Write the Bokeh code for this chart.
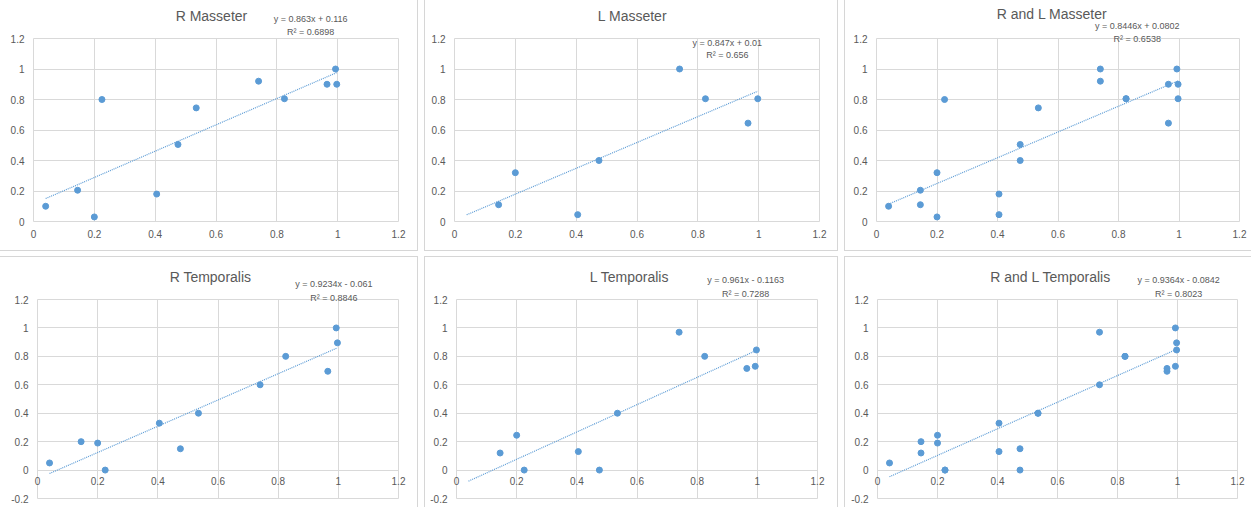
import numpy as np
from bokeh.plotting import figure
from bokeh.layouts import row, column
from bokeh.models import Label, FixedTicker, CustomJSTickFormatter, Range1d
from bokeh.embed import file_html
from bokeh.resources import INLINE

nan = float("nan")

# ---- data ----
subject_x = [0.04, 0.145, 0.2, 0.225, 0.405, 0.475, 0.535, 0.74, 0.825, 0.965, 0.993, 0.997]
r_masseter = [0.10, 0.205, 0.03, 0.80, 0.18, 0.505, 0.745, 0.92, 0.805, 0.90, 1.0, 0.90]
l_masseter = [nan, 0.11, 0.32, nan, 0.045, 0.40, nan, 1.0, 0.805, 0.645, nan, 0.805]
r_temporalis = [0.05, 0.20, 0.19, 0.0, 0.33, 0.15, 0.40, 0.60, 0.80, 0.695, 1.0, 0.895]
l_temporalis = [nan, 0.12, 0.245, 0.0, 0.13, 0.0, 0.40, 0.97, 0.80, 0.715, 0.73, 0.845]

titles = ["R Masseter", "L Masseter", "R and L Masseter",
          "R Temporalis", "L Temporalis", "R and L Temporalis"]
slopes = [0.863, 0.847, 0.8446, 0.9234, 0.961, 0.9364]
intercepts = [0.116, 0.01, 0.0802, -0.061, -0.1163, -0.0842]
equations = ["y = 0.863x + 0.116", "y = 0.847x + 0.01", "y = 0.8446x + 0.0802",
             "y = 0.9234x - 0.061", "y = 0.961x - 0.1163", "y = 0.9364x - 0.0842"]
r_squared = ["R\u00b2 = 0.6898", "R\u00b2 = 0.656", "R\u00b2 = 0.6538",
             "R\u00b2 = 0.8846", "R\u00b2 = 0.7288", "R\u00b2 = 0.8023"]
x_ticks = [0, 0.2, 0.4, 0.6, 0.8, 1, 1.2]
y_ticks_top = [0, 0.2, 0.4, 0.6, 0.8, 1, 1.2]
y_ticks_bottom = [-0.2, 0, 0.2, 0.4, 0.6, 0.8, 1, 1.2]

x_arr = np.array(subject_x)
series = [
    (x_arr, np.array(r_masseter)),
    (x_arr, np.array(l_masseter)),
    (np.concatenate([x_arr, x_arr]), np.concatenate([r_masseter, l_masseter])),
    (x_arr, np.array(r_temporalis)),
    (x_arr, np.array(l_temporalis)),
    (np.concatenate([x_arr, x_arr]), np.concatenate([r_temporalis, l_temporalis])),
]

# ---- styling / layout ----
BLUE = "#5B9BD5"
TXT = "#595959"
GRID = "#d9d9d9"
FONT = "Liberation Sans"

# width, height, (left, right, top, bottom) borders
layout_cfg = [
    (417, 250, (33, 19, 38, 27)),
    (412, 250, (29, 18, 38, 27)),
    (406, 250, (31, 12, 37, 29)),
    (417, 250, (37, 19, 42, 9)),
    (412, 250, (31, 20, 42, 9)),
    (406, 250, (32, 14, 42, 9)),
]
# title position (data units, placed above the plot area)
title_pos = [(0.585, 1.35), (0.585, 1.35), (0.58, 1.36),
             (0.575, 1.355), (0.575, 1.355), (0.577, 1.355)]
# equation label positions in data units (x, y line1, y line2)
eq_pos = [
    (0.911, 1.33, 1.24),
    (0.897, 1.17, 1.09),
    (0.862, 1.28, 1.195),
    (0.985, 1.31, 1.21),
    (0.961, 1.34, 1.24),
    (1.004, 1.34, 1.24),
]

fmt = CustomJSTickFormatter(code="return String(Number(tick.toFixed(2)));")


def text_label(x, y, txt, size):
    return Label(x=x, y=y, text=txt, text_align="center", text_baseline="middle",
                 text_font=FONT, text_font_size=size, text_color=TXT)


panels = []
for i in range(6):
    w, h, (bl, br, bt, bb) = layout_cfg[i]
    bottom_row = i >= 3
    y0 = -0.2 if bottom_row else 0.0
    p = figure(width=w, height=h, output_backend="svg", toolbar_location=None,
               x_range=Range1d(0, 1.2), y_range=Range1d(y0, 1.2),
               min_border_left=bl, min_border_right=br,
               min_border_top=bt, min_border_bottom=bb)
    p.title.visible = False

    p.outline_line_color = GRID
    p.background_fill_color = "white"
    p.border_fill_color = "white"
    p.styles = {"outline": "1px solid #d6d6d6"}

    for ax in (p.xaxis[0], p.yaxis[0]):
        ax.axis_line_color = None
        ax.major_tick_line_color = None
        ax.minor_tick_line_color = None
        ax.major_tick_out = 0
        ax.major_tick_in = 0
        ax.minor_tick_out = 0
        ax.minor_tick_in = 0
        ax.major_label_text_font = FONT
        ax.major_label_text_font_size = "10px"
        ax.major_label_text_color = TXT
        ax.formatter = fmt
    p.xaxis[0].ticker = FixedTicker(ticks=x_ticks)
    p.yaxis[0].ticker = FixedTicker(ticks=y_ticks_bottom if bottom_row else y_ticks_top)
    p.yaxis[0].major_label_standoff = 9
    # x labels sit next to the y = 0 line
    p.xaxis[0].major_label_standoff = -22 if bottom_row else 8

    p.xgrid.ticker = FixedTicker(ticks=x_ticks)
    p.ygrid.ticker = FixedTicker(ticks=y_ticks_bottom if bottom_row else y_ticks_top)
    p.xgrid.grid_line_color = GRID
    p.ygrid.grid_line_color = GRID

    xs, ys = series[i]
    m = ~np.isnan(ys)
    # trendline across the x-domain of the subjects
    tx = np.array([x_arr.min(), x_arr.max()])
    ty = slopes[i] * tx + intercepts[i]
    p.line(tx, ty, line_color=BLUE, line_width=1.2, line_dash="1 1")
    p.scatter(xs[m], ys[m], size=6, fill_color=BLUE, line_color=BLUE)

    # chart title (drawn in the top margin, not clipped)
    tpx, tpy = title_pos[i]
    p.add_layout(text_label(tpx, tpy, titles[i], "14px"), "above")

    ex, ey1, ey2 = eq_pos[i]
    for txt, yy in ((equations[i], ey1), (r_squared[i], ey2)):
        lab = text_label(ex, yy, txt, "9px")
        if yy < 1.18:
            p.add_layout(lab)
        else:
            p.add_layout(lab, "above")
    panels.append(p)

layout = column(row(panels[0], panels[1], panels[2], spacing=8),
                row(panels[3], panels[4], panels[5], spacing=8), spacing=7)

open("out.html", "w").write(file_html(layout, INLINE))
